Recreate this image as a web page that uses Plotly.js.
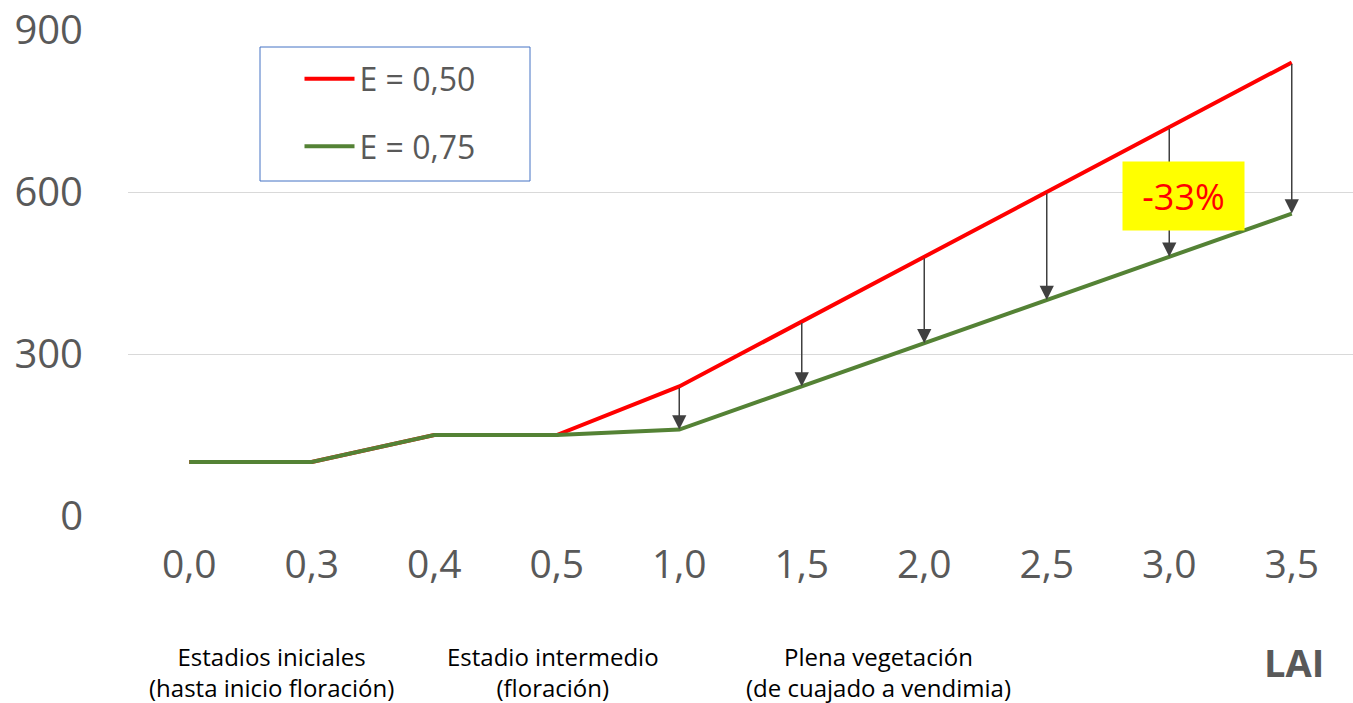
<!DOCTYPE html>
<html>
<head>
<meta charset="utf-8">
<script src="https://cdn.plot.ly/plotly-3.0.1.min.js"></script>
<style>html,body{margin:0;padding:0;background:#fff}#chart{width:1353px;height:703px}</style>
</head>
<body>
<div id="chart"></div>
<script>
// Data
const laiLabels = ["0,0","0,3","0,4","0,5","1,0","1,5","2,0","2,5","3,0","3,5"];
const seriesNames = ["E = 0,50","E = 0,75"];
const redValues = [100,100,150,150,240,360,480,600,720,840];
const greenValues = [100,100,150,150,160,240,320,400,480,560];
const arrowFrom = 4; // arrows drawn from LAI 1,0 onward
const yTicks = [0,300,600,900];
const stageLabels = ["Estadios iniciales<br>(hasta inicio floración)","Estadio intermedio<br>(floración)","Plena vegetación<br>(de cuajado a vendimia)"];
const stageCenters = [0.67, 2.97, 5.63];
const reductionLabel = "-33%";

const idx = laiLabels.map((_, i) => i);
const font = "'Open Sans', 'Liberation Sans', sans-serif";
const grey = "#595959";

const traces = [
  {x: idx, y: redValues, type: "scatter", mode: "lines", name: seriesNames[0], legendgroup: "a",
   line: {color: "#FF0000", width: 4}, hoverinfo: "skip"},
  {x: idx, y: greenValues, type: "scatter", mode: "lines", name: seriesNames[1], legendgroup: "b",
   line: {color: "#548235", width: 4}, hoverinfo: "skip"}
];

const annotations = [];
for (let i = arrowFrom; i < idx.length; i++) {
  annotations.push({
    x: idx[i], y: greenValues[i], xref: "x", yref: "y",
    ax: idx[i], ay: redValues[i], axref: "x", ayref: "y",
    showarrow: true, arrowhead: 2, arrowsize: 1.9, arrowwidth: 1.5, arrowcolor: "#404040",
    standoff: 0, startstandoff: 0, text: ""
  });
}
stageLabels.forEach((t, k) => {
  annotations.push({
    x: stageCenters[k], y: -0.321, xref: "x", yref: "paper", text: t, showarrow: false,
    xanchor: "center", yanchor: "middle", font: {family: font, size: 24, color: "#000"}
  });
});
annotations.push({
  x: 9.02, y: -0.30, xref: "x", yref: "paper", text: "<b>LAI</b>", showarrow: false,
  xanchor: "center", yanchor: "middle", font: {family: font, size: 38, color: grey}
});
annotations.push({
  x: 8.115, y: 593, xref: "x", yref: "y", text: reductionLabel, showarrow: false,
  bgcolor: "#FFFF00", width: 117, height: 64, borderpad: 2,
  font: {family: font, size: 36, color: "#FF0000"}
});

const layout = {
  width: 1353, height: 703,
  margin: {l: 128, r: 0, t: 30, b: 187},
  paper_bgcolor: "#fff", plot_bgcolor: "#fff",
  showlegend: true,
  legend: {x: 0.14, y: 0.956, xanchor: "left", yanchor: "top", bgcolor: "rgba(0,0,0,0)",
           borderwidth: 0, traceorder: "grouped", tracegroupgap: 23, itemwidth: 50,
           font: {family: font, size: 32, color: grey}},
  xaxis: {range: [-0.5, 9.5], tickvals: idx, ticktext: laiLabels, showgrid: false, zeroline: false,
          showline: false, ticks: "", ticklabelstandoff: 22, fixedrange: true,
          tickfont: {family: font, size: 39, color: grey}},
  yaxis: {range: [0, 900], tickvals: yTicks, showgrid: true, gridcolor: "#D9D9D9", gridwidth: 1,
          zeroline: false, showline: false, ticks: "", ticklabelstandoff: 44, fixedrange: true,
          tickfont: {family: font, size: 40, color: grey}},
  shapes: [{type: "rect", xref: "paper", yref: "paper",
            x0: (260-128)/1225, x1: (530-128)/1225, y0: (516-181)/486, y1: (516-47)/486,
            line: {color: "#4472C4", width: 1}, fillcolor: "rgba(0,0,0,0)", layer: "above"}],
  annotations: annotations
};

Plotly.newPlot("chart", traces, layout, {staticPlot: true, displayModeBar: false});
</script>
</body>
</html>
